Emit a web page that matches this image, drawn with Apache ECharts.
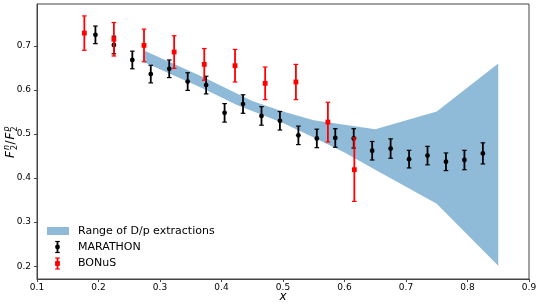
<!DOCTYPE html>
<html><head><meta charset="utf-8">
<script src="https://cdn.jsdelivr.net/npm/echarts@6/dist/echarts.min.js"></script>
<style>html,body{margin:0;padding:0;background:#fff}#c{width:540px;height:308px}</style>
</head><body><div id="c"></div>
<script>
// ---- data ----
const xTicks = [0.1, 0.2, 0.3, 0.4, 0.5, 0.6, 0.7, 0.8, 0.9];
const yTicks = [0.2, 0.3, 0.4, 0.5, 0.6, 0.7];

const marathonX = [0.195, 0.225, 0.255, 0.285, 0.315, 0.345, 0.375, 0.405, 0.435, 0.465, 0.495, 0.525, 0.555, 0.585, 0.615, 0.645, 0.675, 0.705, 0.735, 0.765, 0.795, 0.825];
const marathonY = [0.725, 0.702, 0.668, 0.636, 0.648, 0.619, 0.611, 0.548, 0.568, 0.541, 0.530, 0.497, 0.490, 0.491, 0.490, 0.462, 0.467, 0.443, 0.451, 0.437, 0.441, 0.456];
const marathonErr = [0.020, 0.020, 0.020, 0.020, 0.020, 0.020, 0.020, 0.021, 0.021, 0.021, 0.021, 0.021, 0.021, 0.021, 0.022, 0.021, 0.022, 0.020, 0.021, 0.020, 0.022, 0.024];

const bonusX = [0.177, 0.225, 0.274, 0.323, 0.372, 0.422, 0.471, 0.521, 0.573, 0.616];
const bonusY = [0.729, 0.715, 0.701, 0.686, 0.658, 0.655, 0.615, 0.618, 0.527, 0.419];
const bonusErr = [0.039, 0.038, 0.037, 0.037, 0.036, 0.037, 0.037, 0.040, 0.045, 0.072];

const bandX = [0.275, 0.35, 0.375, 0.425, 0.45, 0.5, 0.55, 0.6, 0.65, 0.75, 0.85];
const bandLow = [0.662, 0.616, 0.600, 0.566, 0.552, 0.525, 0.492, 0.458, 0.419, 0.342, 0.201];
const bandHigh = [0.689, 0.642, 0.626, 0.592, 0.575, 0.551, 0.531, 0.521, 0.511, 0.551, 0.660];

const seriesNames = ['Range of D/p extractions', 'MARATHON', 'BONuS'];

// ---- chart ----
const FONT = 'DejaVu Sans';
const BAND_COLOR = '#8fbbd9';
const FRAME = '#444';
const chart = echarts.init(document.getElementById('c'), null, {renderer: 'canvas'});

function errorRender(color, shape) {
  return function (params, api) {
    const x = api.value(0), y = api.value(1), e = api.value(2);
    const c = api.coord([x, y]);
    const t = api.coord([x, y + e]);
    const b = api.coord([x, y - e]);
    const cap = 2.3;
    const kids = [
      {type: 'line', shape: {x1: c[0], y1: t[1], x2: c[0], y2: b[1]}, style: {stroke: color, lineWidth: 1.8}},
      {type: 'line', shape: {x1: c[0] - cap, y1: t[1], x2: c[0] + cap, y2: t[1]}, style: {stroke: color, lineWidth: 1.2}},
      {type: 'line', shape: {x1: c[0] - cap, y1: b[1], x2: c[0] + cap, y2: b[1]}, style: {stroke: color, lineWidth: 1.2}}
    ];
    if (shape === 'circle') {
      kids.push({type: 'circle', shape: {cx: c[0], cy: c[1], r: 2.4}, style: {fill: color}});
    } else {
      kids.push({type: 'rect', shape: {x: c[0] - 2.4, y: c[1] - 2.4, width: 4.8, height: 4.8}, style: {fill: color}});
    }
    return {type: 'group', children: kids};
  };
}

function bandRender(params, api) {
  if (params.dataIndex !== 0) return null;
  const pts = [];
  for (let i = 0; i < bandX.length; i++) pts.push(api.coord([bandX[i], bandHigh[i]]));
  for (let i = bandX.length - 1; i >= 0; i--) pts.push(api.coord([bandX[i], bandLow[i]]));
  return {type: 'polygon', shape: {points: pts}, style: {fill: BAND_COLOR}};
}

function legendIcon(cx, cy, half, color, shape) {
  const cap = 2.3;
  const kids = [
    {type: 'line', shape: {x1: cx, y1: cy - half, x2: cx, y2: cy + half}, style: {stroke: color, lineWidth: 1.8}},
    {type: 'line', shape: {x1: cx - cap, y1: cy - half, x2: cx + cap, y2: cy - half}, style: {stroke: color, lineWidth: 1.2}},
    {type: 'line', shape: {x1: cx - cap, y1: cy + half, x2: cx + cap, y2: cy + half}, style: {stroke: color, lineWidth: 1.2}}
  ];
  if (shape === 'circle') kids.push({type: 'circle', shape: {cx: cx, cy: cy, r: 2.4}, style: {fill: color}});
  else kids.push({type: 'rect', shape: {x: cx - 2.4, y: cy - 2.4, width: 4.8, height: 4.8}, style: {fill: color}});
  return kids;
}

const legendFont = {fontFamily: FONT, fontSize: 11, fill: '#000'};

const option = {
  animation: false,
  backgroundColor: '#fff',
  grid: {left: 37, right: 11, top: 4, bottom: 29, show: true, borderColor: FRAME, borderWidth: 1, backgroundColor: 'transparent'},
  xAxis: {
    type: 'value', min: 0.1, max: 0.9, interval: 0.1,
    axisLine: {show: true, onZero: false, lineStyle: {color: FRAME, width: 1}},
    axisTick: {show: true, length: 3, lineStyle: {color: FRAME, width: 1}, customValues: xTicks},
    axisLabel: {color: '#000', fontFamily: FONT, fontSize: 9, margin: 4, customValues: xTicks,
      formatter: v => v.toFixed(1)},
    splitLine: {show: false}
  },
  yAxis: {
    type: 'value', min: 0.171, max: 0.795,
    axisLine: {show: true, onZero: false, lineStyle: {color: FRAME, width: 1}},
    axisTick: {show: true, length: 3, lineStyle: {color: FRAME, width: 1}, customValues: yTicks},
    axisLabel: {color: '#000', fontFamily: FONT, fontSize: 9, margin: 6, customValues: yTicks,
      formatter: v => v.toFixed(1)},
    splitLine: {show: false}
  },
  series: [
    {
      name: seriesNames[0], type: 'custom', renderItem: bandRender, z: 1,
      data: bandX.map((x, i) => [x, bandLow[i], bandHigh[i]]),
      encode: {x: 0, y: [1, 2]}, clip: true
    },
    {
      name: seriesNames[1], type: 'custom', renderItem: errorRender('#000', 'circle'), z: 2,
      data: marathonX.map((x, i) => [x, marathonY[i], marathonErr[i]]),
      encode: {x: 0, y: 1}
    },
    {
      name: seriesNames[2], type: 'custom', renderItem: errorRender('#ff0000', 'square'), z: 3,
      data: bonusX.map((x, i) => [x, bonusY[i], bonusErr[i]]),
      encode: {x: 0, y: 1}
    }
  ],
  graphic: [
    // legend
    {type: 'rect', shape: {x: 47, y: 227, width: 22, height: 8}, style: {fill: BAND_COLOR}},
    {type: 'text', x: 78, y: 231, style: Object.assign({text: seriesNames[0], verticalAlign: 'middle'}, legendFont)},
    {type: 'group', children: legendIcon(57.5, 247, 5.5, '#000', 'circle')},
    {type: 'text', x: 78, y: 247, style: Object.assign({text: seriesNames[1], verticalAlign: 'middle'}, legendFont)},
    {type: 'group', children: legendIcon(57.5, 263.5, 5.5, '#ff0000', 'square')},
    {type: 'text', x: 78, y: 263.5, style: Object.assign({text: seriesNames[2], verticalAlign: 'middle'}, legendFont)},
    // x-axis label
    {type: 'text', x: 283, y: 297, style: {text: 'x', fontFamily: FONT, fontStyle: 'italic', fontSize: 12, fill: '#000', align: 'center', verticalAlign: 'middle'}},
    // y-axis label  F_2^n / F_2^p
    {type: 'group', x: 11, y: 141, rotation: Math.PI / 2, children: [
      {type: 'text', x: -17, y: 0, style: {text: 'F', fontFamily: FONT, fontStyle: 'italic', fontSize: 12, fill: '#000', verticalAlign: 'middle'}},
      {type: 'text', x: -9, y: 3.5, style: {text: '2', fontFamily: FONT, fontSize: 8, fill: '#000', verticalAlign: 'middle'}},
      {type: 'text', x: -9, y: -4.5, style: {text: 'n', fontFamily: FONT, fontStyle: 'italic', fontSize: 8, fill: '#000', verticalAlign: 'middle'}},
      {type: 'text', x: -3.5, y: 0, style: {text: '/', fontFamily: FONT, fontSize: 12, fill: '#000', verticalAlign: 'middle'}},
      {type: 'text', x: 1.5, y: 0, style: {text: 'F', fontFamily: FONT, fontStyle: 'italic', fontSize: 12, fill: '#000', verticalAlign: 'middle'}},
      {type: 'text', x: 9.5, y: 3.5, style: {text: '2', fontFamily: FONT, fontSize: 8, fill: '#000', verticalAlign: 'middle'}},
      {type: 'text', x: 9.5, y: -4.5, style: {text: 'p', fontFamily: FONT, fontStyle: 'italic', fontSize: 8, fill: '#000', verticalAlign: 'middle'}}
    ]}
  ]
};
chart.setOption(option);
</script>
</body></html>
